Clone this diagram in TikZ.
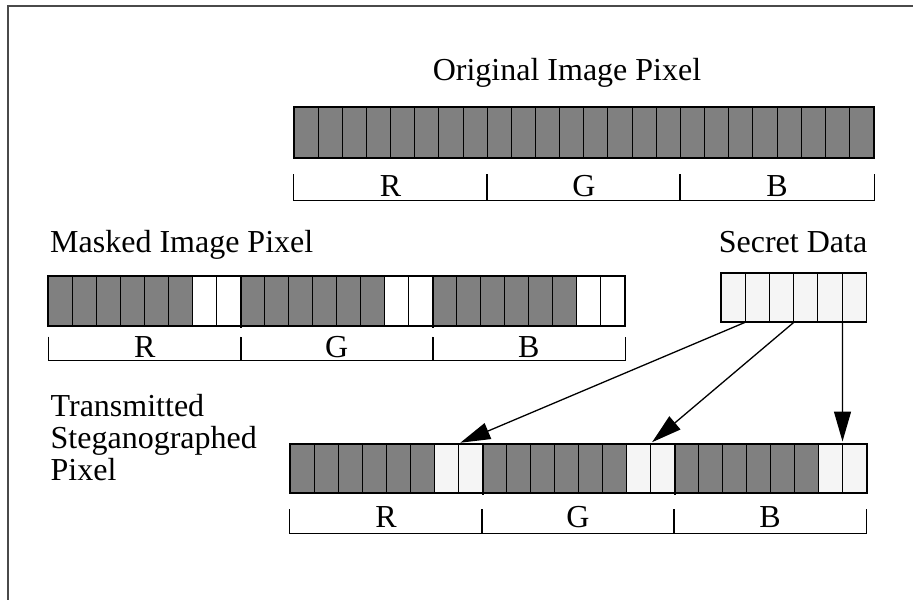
\documentclass[tikz,border=0pt]{standalone}
\usepackage{fontspec}
\setmainfont{Liberation Serif}
\usepackage{tikz}
\usetikzlibrary{arrows.meta, positioning, calc}

\definecolor{bitgray}{HTML}{808080}
\definecolor{bitlight}{HTML}{F5F5F5}
\definecolor{framegray}{HTML}{4A4A4A}

\begin{document}
\begin{tikzpicture}[
            x = 1pt, y = -1pt, % pixel grid, y going down
            > = {Triangle[length=30pt, width=17pt]}, % arrow head style
            font = \fontsize{32}{32}\selectfont
        ]

        \tikzstyle{bit}=[
            draw = black,
            line width = 1pt,
            fill = bitgray,
            minimum width = 24pt,
            minimum height = 49pt,
            inner sep = 0pt,
            anchor = north west
        ]
        \tikzstyle{bar edge}=[draw = black, line width = 2pt]
        \tikzstyle{brace}=[draw = black, line width = 1pt]
        \tikzstyle{caption}=[inner sep = 0pt]
        \tikzstyle{embed}=[->, line width = 1.3pt, shorten > = 2pt]

        \useasboundingbox (0,0) rectangle (913,600);
        \draw[framegray, line width = 2pt] (913,6) -- (8,6) -- (8,600);

        % original pixel
        \foreach \n in {1,...,24}
            \node[bit, minimum width = 24.15pt, minimum height = 50pt] (o\n) at ({293.5+(\n-1)*24.15}, 107) {};
        \draw[bar edge] (o1.north west) rectangle (o24.south east);
        \node[caption, anchor = base] (otitle) at (567, 80) {Original Image Pixel};

        % masked pixel
        \foreach \g in {0,1,2}
            \foreach \c in {1,...,8} {
                \pgfmathtruncatemacro{\n}{8*\g+\c}
                \ifnum\c>6 \def\bitfill{white}\else\def\bitfill{bitgray}\fi
                \node[bit, fill = \bitfill] (m\n) at ({48.3+(\n-1)*24}, 275.7) {};
            }
        \draw[bar edge] (m1.north west) rectangle (m24.south east);
        \draw[bar edge] (m8.north east) -- ([yshift=-2pt]m8.south east);
        \draw[bar edge] (m16.north east) -- ([yshift=-2pt]m16.south east);
        \node[caption, anchor = base west] (mtitle) at (50, 252) {Masked Image Pixel};

        % secret data
        \foreach \n in {1,...,6}
            \node[bit, fill = bitlight, minimum width = 24.17pt, minimum height = 48.3pt] (s\n) at ({720.7+(\n-1)*24.17}, 272.7) {};
        \draw[bar edge, line width = 1.4pt] (s1.north west) rectangle (s6.south east);
        \node[caption, anchor = base] (stitle) at (793, 252) {Secret Data};

        % transmitted pixel
        \foreach \g in {0,1,2}
            \foreach \c in {1,...,8} {
                \pgfmathtruncatemacro{\n}{8*\g+\c}
                \ifnum\c>6 \def\bitfill{bitlight}\else\def\bitfill{bitgray}\fi
                \node[bit, fill = \bitfill, minimum height = 48.5pt] (t\n) at ({289.5+(\n-1)*24}, 443.5) {};
            }
        \draw[bar edge] (t1.north west) rectangle (t24.south east);
        \draw[bar edge] (t8.north east) -- ([yshift=-2pt]t8.south east);
        \draw[bar edge] (t16.north east) -- ([yshift=-2pt]t16.south east);
        \node[caption, anchor = north west, align = left] (ttitle) at (50.5, 394)
            {Transmitted\\Steganographed\\Pixel};

        % R G B braces
        \foreach \n/\e/\lab in {1/8/R, 9/16/G, 17/24/B} {
            \draw[brace] ([yshift=-16pt]o\n.south west) -- ([yshift=-42pt]o\n.south west)
                -- ([yshift=-42pt]o\e.south east) -- ([yshift=-16pt]o\e.south east);
            \node[caption, anchor = base] at ($([yshift=-38pt]o\n.south west)!0.5!([yshift=-38pt]o\e.south east)$) {\lab};
            \draw[brace] ([yshift=-11pt]m\n.south west) -- ([yshift=-35pt]m\n.south west)
                -- ([yshift=-35pt]m\e.south east) -- ([yshift=-11pt]m\e.south east);
            \node[caption, anchor = base] at ($([yshift=-31.5pt]m\n.south west)!0.5!([yshift=-31.5pt]m\e.south east)$) {\lab};
            \draw[brace] ([yshift=-16pt]t\n.south west) -- ([yshift=-40pt]t\n.south west)
                -- ([yshift=-40pt]t\e.south east) -- ([yshift=-16pt]t\e.south east);
            \node[caption, anchor = base] at ($([yshift=-34pt]t\n.south west)!0.5!([yshift=-34pt]t\e.south east)$) {\lab};
        }

        % embedding arrows
        \draw[embed] (s1.south east) -- (t7.north east);
        \draw[embed] (s3.south east) -- (t15.north east);
        \draw[embed] (s5.south east) -- (t23.north east);

  \end{tikzpicture}
\end{document}
